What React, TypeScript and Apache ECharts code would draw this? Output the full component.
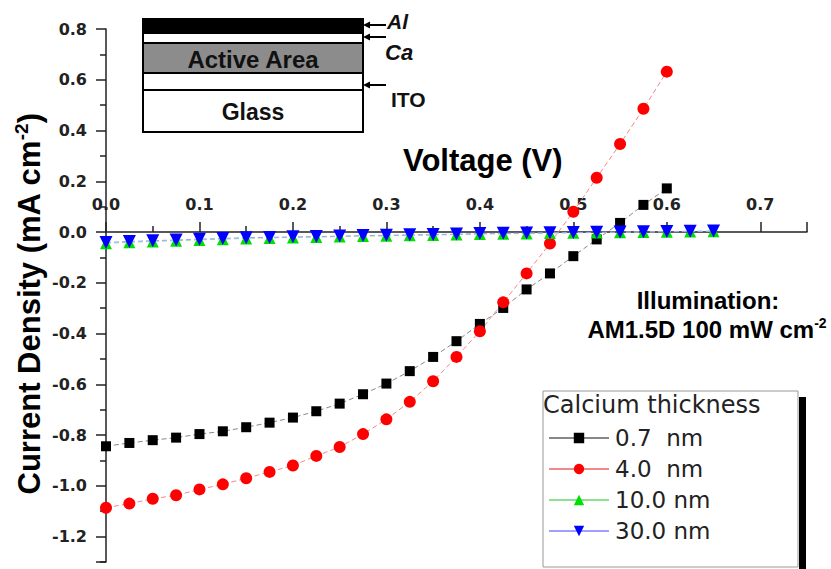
import React, { useEffect, useRef } from "react";
import * as echarts from "echarts";

const voltage = [0, 0.025, 0.05, 0.075, 0.1, 0.125, 0.15, 0.175, 0.2, 0.225, 0.25, 0.275, 0.3, 0.325, 0.35, 0.375, 0.4, 0.425, 0.45, 0.475, 0.5, 0.525, 0.55, 0.575, 0.6, 0.625, 0.65];

const j07 = [-0.844, -0.831, -0.82, -0.81, -0.796, -0.785, -0.769, -0.751, -0.731, -0.706, -0.676, -0.639, -0.597, -0.548, -0.492, -0.43, -0.362, -0.299, -0.226, -0.163, -0.095, -0.029, 0.036, 0.107, 0.172];
const j40 = [-1.086, -1.07, -1.051, -1.037, -1.014, -0.994, -0.97, -0.945, -0.92, -0.882, -0.847, -0.796, -0.738, -0.669, -0.588, -0.492, -0.391, -0.277, -0.163, -0.045, 0.08, 0.214, 0.347, 0.486, 0.632];
const j100 = [-0.044, -0.04, -0.037, -0.034, -0.031, -0.028, -0.025, -0.023, -0.021, -0.02, -0.018, -0.016, -0.015, -0.013, -0.012, -0.01, -0.008, -0.007, -0.006, -0.004, -0.003, -0.002, -0.001, 0.0, 0.001, 0.002, 0.003];
const j300 = [-0.041, -0.037, -0.034, -0.031, -0.028, -0.025, -0.022, -0.021, -0.019, -0.018, -0.016, -0.014, -0.013, -0.011, -0.01, -0.008, -0.006, -0.005, -0.004, -0.003, -0.002, -0.001, 0.0, 0.001, 0.002, 0.003, 0.004];

const seriesNames = ["0.7  nm", "4.0  nm", "10.0 nm", "30.0 nm"];
const xTickLabels = ["0.0", "0.1", "0.2", "0.3", "0.4", "0.5", "0.6", "0.7"];

const Y_MIN = -1.3;
const Y_MAX = 0.8;

const FONT = "'Liberation Sans', Arial, sans-serif";
const WIDE = "'DejaVu Sans', 'Liberation Sans', sans-serif";

function zip(ys: number[]) {
  return ys.map((y, i) => [voltage[i], y]);
}

export default function App() {
  const ref = useRef<HTMLDivElement>(null);
  useEffect(() => {
    if (!ref.current) return;
    const chart = echarts.init(ref.current, null, { renderer: "svg" });
    const axisColor = "#222";
    const gridTop = 29;
    const gridBottom = 7;
    const plotH = 569 - gridTop - gridBottom;
    // distance from the bottom edge of the grid up to y = 0
    const zeroOffset = ((0 - Y_MIN) / (Y_MAX - Y_MIN)) * plotH;
    const arrow = (y: number) => [
      { type: "line", shape: { x1: 368, y1: y, x2: 386, y2: y }, style: { stroke: "#000", lineWidth: 2 } },
      { type: "polygon", shape: { points: [[363, y], [370, y - 3.5], [370, y + 3.5]] }, style: { fill: "#000" } },
    ];
    const option: any = {
      animation: false,
      backgroundColor: "#fff",
      grid: { left: 106, right: 24, top: gridTop, bottom: gridBottom, containLabel: false },
      xAxis: {
        type: "value",
        min: 0,
        max: 0.75,
        interval: 0.1,
        position: "bottom",
        offset: -zeroOffset,
        axisLine: { onZero: false, lineStyle: { color: axisColor, width: 1.5 } },
        axisTick: { inside: true, length: 10, lineStyle: { color: axisColor, width: 1.5 } },
        minorTick: { show: true, splitNumber: 2, length: 6, lineStyle: { color: axisColor, width: 1.5 } },
        axisLabel: {
          inside: true,
          margin: 20,
          showMaxLabel: false,
          formatter: (v: number) => xTickLabels[Math.round(v * 10)] ?? "",
          fontSize: 16,
          fontWeight: "bold",
          fontFamily: WIDE,
          color: "#222",
        },
        splitLine: { show: false },
      },
      yAxis: {
        type: "value",
        min: Y_MIN,
        max: Y_MAX,
        splitNumber: 10,
        minInterval: 0.2,
        maxInterval: 0.2,
        axisLine: { onZero: false, lineStyle: { color: axisColor, width: 1.5 } },
        axisTick: { length: 10, lineStyle: { color: axisColor, width: 1.5 } },
        minorTick: { show: true, splitNumber: 2, length: 6, lineStyle: { color: axisColor, width: 1.5 } },
        axisLabel: {
          margin: 19,
          showMinLabel: false,
          formatter: (v: number) => v.toFixed(1),
          fontSize: 16,
          fontWeight: "bold",
          fontFamily: WIDE,
          color: "#222",
        },
        splitLine: { show: false },
      },
      legend: {
        orient: "vertical",
        left: 543,
        top: 421,
        itemWidth: 60,
        itemHeight: 13,
        itemGap: 7,
        data: seriesNames,
        textStyle: { fontSize: 23, lineHeight: 24, fontFamily: WIDE, color: "#222", padding: [0, 0, 0, 1] },
        lineStyle: { type: "solid" },
      },
      series: [
        {
          name: seriesNames[0], type: "line", data: zip(j07), symbol: "rect", symbolSize: 10, clip: false,
          itemStyle: { color: "#000" }, lineStyle: { color: "#888", width: 1, type: [5, 3] },
        },
        {
          name: seriesNames[1], type: "line", data: zip(j40), symbol: "circle", symbolSize: 12, clip: false,
          itemStyle: { color: "#ff0000" }, lineStyle: { color: "#f08a8a", width: 1, type: [5, 3] },
        },
        {
          name: seriesNames[2], type: "line", data: zip(j100), symbol: "triangle", symbolSize: 12, clip: false,
          itemStyle: { color: "#00e000" }, lineStyle: { color: "#8fe08f", width: 1, type: [5, 3] },
        },
        {
          name: seriesNames[3], type: "line", data: zip(j300), symbol: "triangle", symbolRotate: 180, symbolSize: 13, clip: false,
          itemStyle: { color: "#0000ff" }, lineStyle: { color: "#a0a0ff", width: 1, type: [5, 3] },
        },
      ],
      graphic: [
        // device stack inset
        { type: "rect", shape: { x: 143, y: 19, width: 220, height: 14 }, style: { fill: "#000", stroke: "#000", lineWidth: 2 } },
        { type: "rect", shape: { x: 143, y: 33, width: 220, height: 10 }, style: { fill: "#fff", stroke: "#000", lineWidth: 2 } },
        { type: "rect", shape: { x: 143, y: 43, width: 220, height: 30 }, style: { fill: "#8c8c8c", stroke: "#000", lineWidth: 2 } },
        { type: "rect", shape: { x: 143, y: 73, width: 220, height: 17 }, style: { fill: "#fff", stroke: "#000", lineWidth: 2 } },
        { type: "rect", shape: { x: 143, y: 90, width: 220, height: 42 }, style: { fill: "#fff", stroke: "#000", lineWidth: 2 } },
        { type: "text", x: 253, y: 59, style: { text: "Active Area", align: "center", verticalAlign: "middle", font: `bold 24px ${FONT}`, fill: "#111" } },
        { type: "text", x: 253, y: 112, style: { text: "Glass", align: "center", verticalAlign: "middle", font: `bold 23px ${FONT}`, fill: "#111" } },
        ...arrow(25),
        ...arrow(37),
        ...arrow(85),
        { type: "text", x: 387, y: 21, style: { text: "Al", align: "left", verticalAlign: "middle", font: `italic bold 21px ${FONT}`, fill: "#111" } },
        { type: "text", x: 385, y: 52, style: { text: "Ca", align: "left", verticalAlign: "middle", font: `italic bold 22px ${FONT}`, fill: "#111" } },
        { type: "text", x: 391, y: 99, style: { text: "ITO", align: "left", verticalAlign: "middle", font: `bold 21px ${FONT}`, fill: "#111" } },
        // axis titles
        { type: "text", x: 403, y: 160, style: { text: "Voltage (V)", align: "left", verticalAlign: "middle", font: `bold 31px ${FONT}`, fill: "#000" } },
        {
          type: "text", x: 29, y: 304, rotation: Math.PI / 2,
          style: {
            text: "{a|Current Density (mA cm}{s|-2}{a|)}",
            align: "center", verticalAlign: "middle",
            rich: {
              a: { fontSize: 31, fontWeight: "bold", fontFamily: FONT, fill: "#000", lineHeight: 35 },
              s: { fontSize: 19, fontWeight: "bold", fontFamily: FONT, fill: "#000", verticalAlign: "top", lineHeight: 20 },
            },
          },
        },
        // illumination note
        { type: "text", x: 708, y: 300, style: { text: "Illumination:", align: "center", verticalAlign: "middle", font: `bold 24px ${FONT}`, fill: "#000" } },
        {
          type: "text", x: 707, y: 329,
          style: {
            text: "{a|AM1.5D 100 mW cm}{s|-2}",
            align: "center", verticalAlign: "middle",
            rich: {
              a: { fontSize: 24, fontWeight: "bold", fontFamily: FONT, fill: "#000", lineHeight: 26 },
              s: { fontSize: 14, fontWeight: "bold", fontFamily: FONT, fill: "#000", verticalAlign: "top", lineHeight: 14 },
            },
          },
        },
        // legend frame
        { type: "rect", z: -1, shape: { x: 543, y: 391, width: 255, height: 176 }, style: { fill: "#fff", stroke: "#999", lineWidth: 1 } },
        { type: "rect", shape: { x: 799, y: 397, width: 7, height: 172 }, style: { fill: "#000" } },
        { type: "text", x: 543, y: 405, style: { text: "Calcium thickness", align: "left", verticalAlign: "middle", font: `24px ${WIDE}`, fill: "#222" } },
      ],
    };
    chart.setOption(option);
    return () => chart.dispose();
  }, []);
  return (
    <div
      ref={ref}
      style={{ position: "absolute", left: 0, top: 0, width: 831, height: 569, background: "#fff" }}
    />
  );
}
